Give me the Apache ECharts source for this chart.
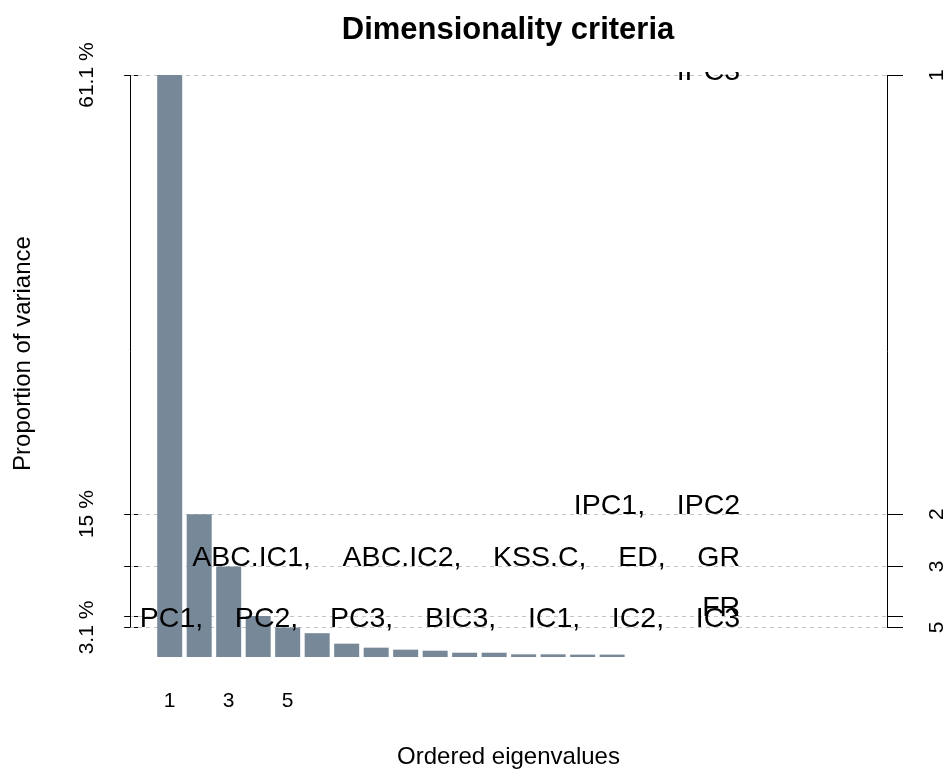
<!DOCTYPE html>
<html><head><meta charset="utf-8">
<script src="https://cdn.jsdelivr.net/npm/echarts@6/dist/echarts.min.js"></script>
<style>html,body{margin:0;padding:0;background:#fff}#c{width:948px;height:769px}</style>
</head><body><div id="c"></div>
<script>
// ---- data ----
const eigenIndex = [1, 2, 3, 4, 5, 6, 7, 8, 9, 10, 11, 12, 13, 14, 15, 16];
const propVariance = [61.1, 15.0, 9.5, 4.3, 3.1, 2.5, 1.4, 0.98, 0.77, 0.66, 0.45, 0.45, 0.28, 0.28, 0.25, 0.25];
const xTickLabels = [1, 3, 5];
const dimValues = [1, 2, 3, 4, 5];
const dimVariance = [61.1, 15.0, 9.5, 4.3, 3.1];
const leftLabelValues = [61.1, 15.0, 3.1];
const rightLabelDims = [1, 2, 3, 5];
const critLabels = [
  'IPC3',
  'IPC1,    IPC2',
  'ABC.IC1,    ABC.IC2,    KSS.C,    ED,    GR',
  'FR',
  'PC1,    PC2,    PC3,    BIC3,    IC1,    IC2,    IC3'
];

// ---- chart ----
const FONT = "'Liberation Sans', Arial, Helvetica, sans-serif";
const X_MIN = -0.346, X_MAX = 25.32, Y_MAX = 61.42;
const LABEL_ANCHOR_X = 20.34;

const chart = echarts.init(document.getElementById('c'), null, {renderer: 'canvas'});

const rightLabelValues = rightLabelDims.map(d => dimVariance[dimValues.indexOf(d)]);
function dimOfValue(v) {
  let best = 0, bd = Infinity;
  dimVariance.forEach((dv, i) => { const d = Math.abs(dv - v); if (d < bd) { bd = d; best = i; } });
  return dimValues[best];
}

const hLines = dimVariance.map(v => ({yAxis: v}));
const vLines = [
  [{coord: [X_MIN, dimVariance[dimVariance.length - 1]]}, {coord: [X_MIN, dimVariance[0]]}],
  [{coord: [X_MAX, dimVariance[dimVariance.length - 1]]}, {coord: [X_MAX, dimVariance[0]]}]
];

const option = {
  animation: false,
  backgroundColor: '#fff',
  title: {
    text: 'Dimensionality criteria',
    left: 508, top: 15, padding: 0,
    textAlign: 'center',
    textStyle: {fontFamily: FONT, fontWeight: 'bold', fontSize: 31, color: '#000'}
  },
  grid: {left: 130, right: 61, top: 72, bottom: 112, containLabel: false, outerBoundsMode: 'none'},
  xAxis: {
    type: 'value', min: X_MIN, max: X_MAX,
    name: 'Ordered eigenvalues', nameLocation: 'middle', nameGap: 88,
    nameTextStyle: {fontFamily: FONT, fontSize: 24, color: '#000'},
    axisLine: {show: false}, axisTick: {show: false}, splitLine: {show: false},
    axisLabel: {customValues: xTickLabels, margin: 34, fontFamily: FONT, fontSize: 21, color: '#000',
      formatter: v => String(v)}
  },
  yAxis: [
    {
      type: 'value', position: 'left', min: 0, max: Y_MAX,
      name: 'Proportion of variance', nameLocation: 'middle', nameGap: 95, nameRotate: 90,
      nameTextStyle: {fontFamily: FONT, fontSize: 24, color: '#000', padding: [0, 0, 0, 22]},
      axisLine: {show: false}, splitLine: {show: false},
      axisTick: {show: true, customValues: dimVariance, length: 16, inside: false, lineStyle: {color: '#000', width: 1}},
      axisLabel: {customValues: leftLabelValues, rotate: 90, margin: 32, fontFamily: FONT, fontSize: 21, color: '#000',
        formatter: v => v + ' %'}
    },
    {
      type: 'value', position: 'right', min: 0, max: Y_MAX,
      axisLine: {show: false}, splitLine: {show: false},
      axisTick: {show: true, customValues: dimVariance, length: 16, inside: false, lineStyle: {color: '#000', width: 1}},
      axisLabel: {customValues: rightLabelValues, rotate: 90, margin: 40, fontFamily: FONT, fontSize: 21, color: '#000',
        formatter: v => String(dimOfValue(v))}
    }
  ],
  series: [
    {
      type: 'line', data: [], z: 1, silent: true,
      markLine: {
        silent: true, symbol: 'none', z: 1, animation: false,
        label: {show: false},
        lineStyle: {color: '#c4c4c4', width: 1, type: [4, 4]},
        data: hLines
      }
    },
    {
      type: 'bar', z: 2, barWidth: 25,
      itemStyle: {color: '#778899'},
      data: eigenIndex.map((x, i) => [x, propVariance[i]])
    },
    {
      type: 'line', data: [], z: 4, silent: true,
      markLine: {
        silent: true, symbol: 'none', animation: false,
        label: {show: false},
        lineStyle: {color: '#000', width: 1, type: 'solid'},
        data: vLines
      }
    },
    {
      type: 'custom', z: 5, clip: true, silent: true,
      data: dimValues.map((d, i) => [d, dimVariance[i]]),
      renderItem: (params, api) => {
        const i = params.dataIndex;
        const p = api.coord([LABEL_ANCHOR_X, api.value(1)]);
        return {
          type: 'text',
          x: p[0], y: p[1] - 8 + (i === 0 ? 5 : 0),
          style: {text: critLabels[i], align: 'right', verticalAlign: 'middle',
            font: '28.5px ' + FONT, fill: '#000'}
        };
      }
    }
  ]
};
chart.setOption(option);
</script>
</body></html>
